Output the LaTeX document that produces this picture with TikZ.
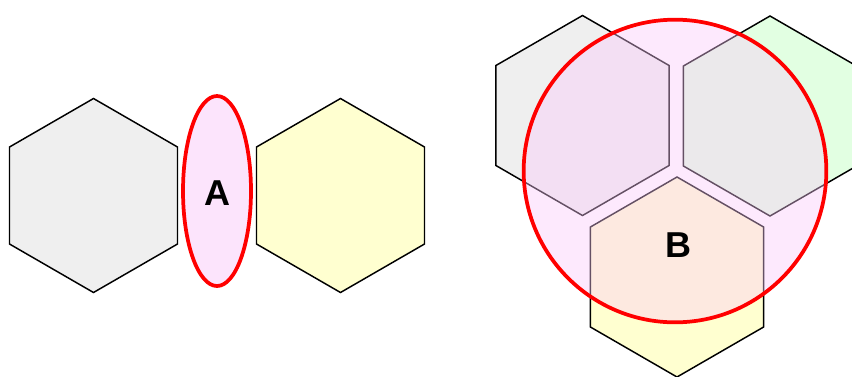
\documentclass[tikz,border=0pt]{standalone}
\usepackage{fontspec}
\setmainfont{Liberation Sans}
\usetikzlibrary{shapes.geometric}
\definecolor{hexGray}{RGB}{239,239,239}
\definecolor{hexYellow}{RGB}{255,255,208}
\definecolor{hexGreen}{RGB}{226,255,226}
\definecolor{zonePink}{RGB}{252,228,252}
\definecolor{zoneTint}{RGB}{250,200,250}

\begin{document}
\begin{tikzpicture}[x=0.75pt,y=-0.75pt,
    hex/.style={regular polygon, regular polygon sides=6, shape border rotate=30,
      draw=black, line width=1.1pt, inner sep=0pt},
    zone/.style={draw=red, line width=2.8pt, inner sep=0pt},
    lbl/.style={font=\fontsize{27}{30}\selectfont\bfseries},
  ]
  \useasboundingbox (0,0) rectangle (852,376);

  % left pair -- zone A between two cells
  \node[hex, fill=hexGray, minimum size=145.5pt] (cellL) at (93.5,195.5) {};
  \node[hex, fill=hexYellow, minimum size=145.5pt] (cellR) at (340.5,195.5) {};
  \node[zone, ellipse, fill=zonePink, minimum width=51pt, minimum height=142.5pt] (zoneA) at (217,191) {};
  \node[lbl] (labA) at (217,193) {A};

  % right triple -- zone B over three cells
  \node[hex, fill=hexGray, minimum size=150pt] (cellTL) at (582.5,115.5) {};
  \node[hex, fill=hexGreen, minimum size=150pt] (cellTR) at (770,116) {};
  \node[hex, fill=hexYellow, minimum size=150pt] (cellB) at (677,277) {};
  \node[zone, circle, fill=zoneTint, fill opacity=0.4, minimum size=227pt] (zoneB) at (675,171) {};
  \node[lbl] (labB) at (678,245) {B};
\end{tikzpicture}
\end{document}
